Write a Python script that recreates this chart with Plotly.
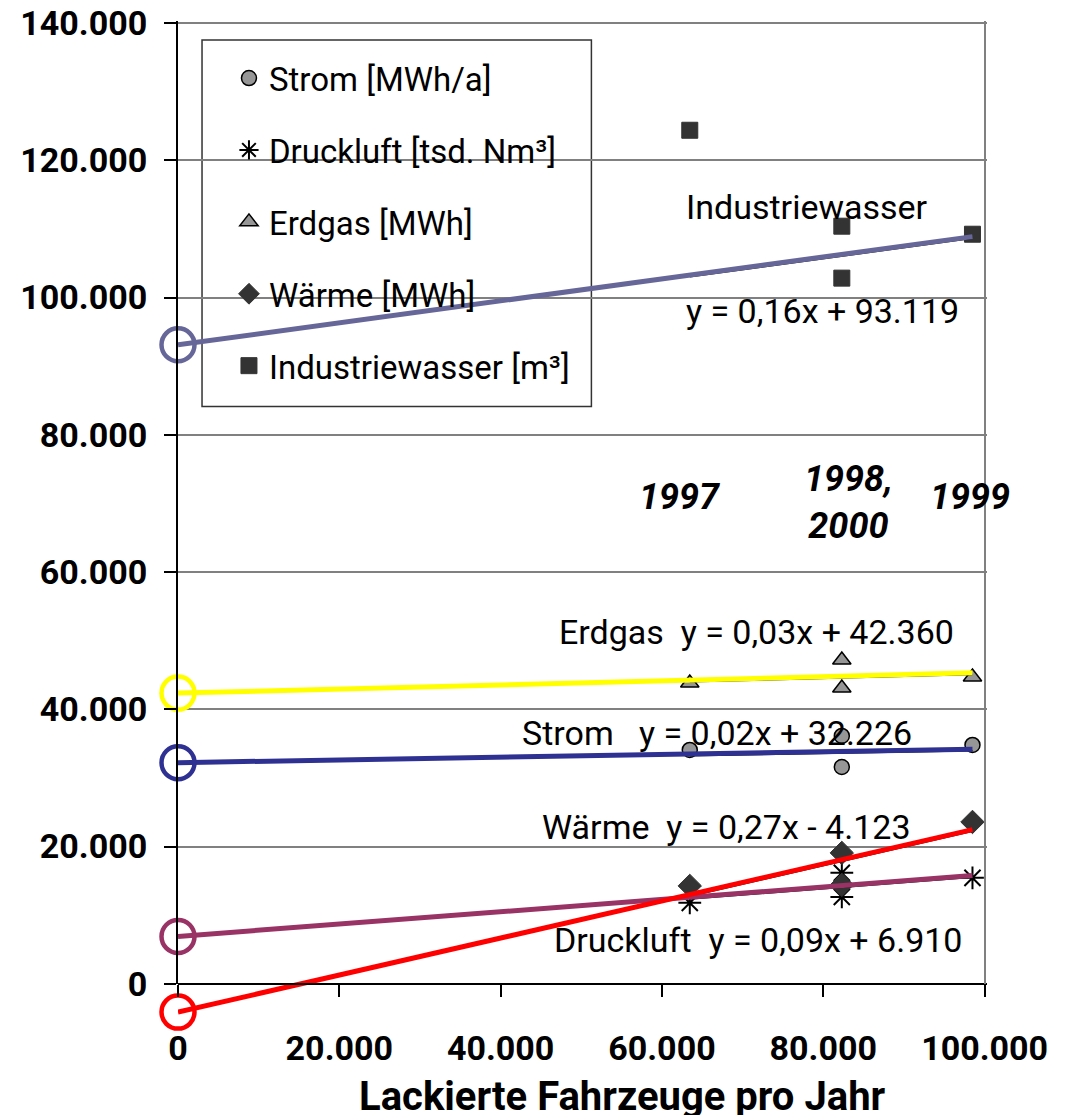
import plotly.graph_objects as go

# ---- data ----
x_fahrzeuge = [63450, 82300, 82300, 98500]          # 1997, 1998, 2000, 1999
strom = [34080, 36120, 31600, 34810]
druckluft = [11800, 16170, 12670, 15440]
erdgas = [43840, 47190, 43110, 44710]
waerme = [14270, 19080, 14420, 23590]
industriewasser = [124380, 110400, 102830, 109230]

series_names = ["Strom [MWh/a]", "Druckluft [tsd. Nm³]", "Erdgas [MWh]",
                "Wärme [MWh]", "Industriewasser [m³]"]
# trend line coefficients as printed in the chart
trend_slopes = [0.02, 0.09, 0.03, 0.27, 0.16]
trend_intercepts = [32226, 6910, 42360, -4123, 93119]
trend_x_end = 98500

y_ticks = [0, 20000, 40000, 60000, 80000, 100000, 120000, 140000]
x_ticks = [0, 20000, 40000, 60000, 80000, 100000]

FONT = "Roboto, sans-serif"

series_vals = [strom, druckluft, erdgas, waerme, industriewasser]
marker_styles = [
    dict(symbol="circle", size=15, color="#969696", line=dict(color="black", width=1.5)),
    dict(symbol="asterisk-open", size=19, color="black", line=dict(color="black", width=2)),
    dict(symbol="triangle-up", size=16, color="#969696", line=dict(color="black", width=1.5)),
    dict(symbol="diamond", size=18, color="#333333", line=dict(color="#333333", width=1)),
    dict(symbol="square", size=16, color="#333333", line=dict(color="#333333", width=1)),
]
line_colors = ["#2E3192", "#993366", "#FFFF00", "#FF0000", "#666699"]

fig = go.Figure()

# data markers
for i, (name, vals, ms) in enumerate(zip(series_names, series_vals, marker_styles)):
    fig.add_trace(go.Scatter(x=x_fahrzeuge, y=vals, mode="markers", name=name,
                             marker=ms, legendgroup=f"g{i}", cliponaxis=False))

# thin black excel trendlines over the data range, then coloured lines from x=0
for s, b in zip(trend_slopes, trend_intercepts):
    xs = [min(x_fahrzeuge), trend_x_end]
    fig.add_trace(go.Scatter(x=xs, y=[s * v + b - 250 for v in xs], mode="lines",
                             line=dict(color="black", width=1.5), showlegend=False,
                             hoverinfo="skip"))
for s, b, c in zip(trend_slopes, trend_intercepts, line_colors):
    xs = [0, trend_x_end]
    fig.add_trace(go.Scatter(x=xs, y=[s * v + b for v in xs], mode="lines",
                             line=dict(color=c, width=5), showlegend=False,
                             hoverinfo="skip"))
    fig.add_trace(go.Scatter(x=[0], y=[b], mode="markers", showlegend=False,
                             marker=dict(symbol="circle-open", size=33,
                                         color=c, line=dict(color=c, width=4.5)),
                             cliponaxis=False, hoverinfo="skip"))

YMIN, YMAX = -6000, 140300
XMAX = 100300
ZERO_POS = (0 - YMIN) / (YMAX - YMIN)

# dummy traces for helper axes
fig.add_trace(go.Scatter(x=[None], y=[None], xaxis="x2", yaxis="y", showlegend=False))
fig.add_trace(go.Scatter(x=[None], y=[None], xaxis="x", yaxis="y2", showlegend=False))
fig.add_trace(go.Scatter(x=[None], y=[None], xaxis="x3", yaxis="y2", showlegend=False))

annos = [
    ("Industriewasser", 62700, 113200, "left"),
    ("y = 0,16x + 93.119", 62700, 98050, "left"),
    ("Erdgas\u00a0\u00a0y = 0,03x + 42.360", 46960, 51280, "left"),
    ("Strom\u00a0\u00a0\u00a0y = 0,02x + 32.226", 42380, 36570, "left"),
    ("Wärme\u00a0\u00a0y = 0,27x - 4.123", 44860, 22870, "left"),
    ("Druckluft\u00a0\u00a0y = 0,09x + 6.910", 46340, 6410, "left"),
    ("<b><i>1997</i></b>", 62200, 70950, "center"),
    ("<b><i>1998,<br>2000</i></b>", 83150, 70080, "center"),
    ("<b><i>1999</i></b>", 98140, 70950, "center"),
]
annotations = []
for txt, ax_, ay_, anchor in annos:
    annotations.append(dict(text=txt, x=ax_, y=ay_, xref="x", yref="y",
                            xanchor=anchor, yanchor="middle", showarrow=False,
                            font=dict(family=FONT, size=34 if "<b>" not in txt else 36,
                                      color="black")))
# x axis title (placed off-centre as in the source)
annotations.append(dict(text="<b>Lackierte Fahrzeuge pro Jahr</b>", x=0.55, y=-0.0717,
                        xref="paper", yref="paper", xanchor="center", yanchor="middle",
                        showarrow=False, font=dict(family=FONT, size=40, color="black")))

# white legend background drawn between gridlines and traces (line crosses it as in source)
legend_box = dict(type="rect", xref="paper", yref="paper", layer="between",
                  x0=0.0297, x1=0.511, y0=0.616, y1=0.981,
                  fillcolor="white", line=dict(color="#333333", width=1.5))

fig.update_layout(
    width=1061, height=1107,
    margin=dict(l=170, r=82, t=13, b=90),
    paper_bgcolor="white", plot_bgcolor="rgba(0,0,0,0)",
    separators=",.",
    font=dict(family=FONT, color="black"),
    showlegend=True,
    legend=dict(x=0.063, y=0.971, xanchor="left", yanchor="top",
                bgcolor="rgba(0,0,0,0)", borderwidth=0,
                font=dict(family=FONT, size=33, color="black"),
                tracegroupgap=26, traceorder="grouped", itemsizing="trace"),
    shapes=[legend_box],
    xaxis=dict(range=[0, XMAX], autorange=False, showgrid=False, zeroline=False,
               showline=False, tickvals=x_ticks, tickformat=",d", ticks="",
               automargin=False, anchor="y",
               tickfont=dict(family=FONT, size=34, color="black", weight="bold")),
    xaxis2=dict(overlaying="x", anchor="free", position=ZERO_POS,
                side="bottom", range=[0, XMAX], autorange=False, showgrid=False,
                zeroline=False, showline=True, linecolor="black", linewidth=2,
                ticks="outside", ticklen=12, tickwidth=1.5, tickcolor="black",
                tickvals=x_ticks, showticklabels=False, automargin=False),
    xaxis3=dict(overlaying="x", anchor="y2", range=[0, XMAX], autorange=False,
                showgrid=True, gridcolor="#808080", gridwidth=2, zeroline=False,
                showline=False, ticks="", tickvals=[100000], showticklabels=False,
                automargin=False),
    yaxis=dict(range=[YMIN, YMAX], autorange=False, showgrid=True, gridcolor="#808080",
               gridwidth=1.5, zeroline=False, showline=False, ticks="",
               tickvals=y_ticks, showticklabels=False, automargin=False,
               domain=[0, 1]),
    yaxis2=dict(domain=[ZERO_POS, 1], anchor="x", range=[0, YMAX], autorange=False,
                showgrid=False, zeroline=False, showline=True, linecolor="black",
                linewidth=2, ticks="outside", ticklen=12, tickwidth=1.5,
                tickcolor="black", tickvals=y_ticks, tickformat=",d",
                automargin=False, ticklabelstandoff=10, ticklabeloverflow="allow",
                tickfont=dict(family=FONT, size=34, color="black", weight="bold")),
    annotations=annotations,
)

fig.write_html("out.html")
